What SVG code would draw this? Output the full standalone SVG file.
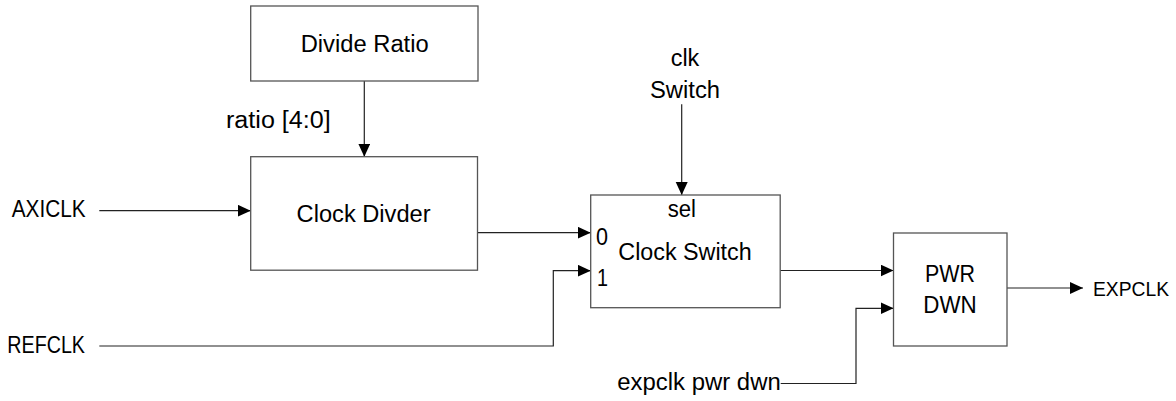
<svg xmlns="http://www.w3.org/2000/svg" width="1176" height="401" viewBox="0 0 1176 401">
<style>
.box{fill:#fff;stroke:#555;stroke-width:1.3}
.wire{fill:none;stroke:#222;stroke-width:1.2}
.t{font-family:"Liberation Sans",Arial,sans-serif;font-size:23.5px;fill:#000}
</style>
<defs>
<marker id="ah" markerUnits="userSpaceOnUse" markerWidth="14" markerHeight="13" refX="13" refY="6" orient="auto">
<path d="M0,0 L13,6 L0,12 z" fill="#000"/>
</marker>
</defs>
<rect width="1176" height="401" fill="#fff"/>
<g id="connectors">
<path class="wire" d="M364.3,81 V156.7" marker-end="url(#ah)"/>
<path class="wire" d="M99.3,210.7 H250.7" marker-end="url(#ah)"/>
<path class="wire" d="M477.5,232.7 H590.7" marker-end="url(#ah)"/>
<path class="wire" d="M99.3,346 H553.3 V270.7 H590.7" marker-end="url(#ah)"/>
<path class="wire" d="M681.7,104.3 V195" marker-end="url(#ah)"/>
<path class="wire" d="M780.2,270.5 H893.5" marker-end="url(#ah)"/>
<path class="wire" d="M780.7,383.5 H856 V308.3 H893.5" marker-end="url(#ah)"/>
<path class="wire" d="M1007,288 H1083" marker-end="url(#ah)"/>
</g>
<g id="divide-ratio">
<rect class="box" x="250.7" y="6" width="227.3" height="75"/>
<text class="t" x="300.7" y="52.3" textLength="128" lengthAdjust="spacingAndGlyphs">Divide Ratio</text>
</g>
<g id="clock-divider">
<rect class="box" x="250.7" y="156.7" width="226.8" height="113.5"/>
<text class="t" x="296.6" y="221.7" textLength="134" lengthAdjust="spacingAndGlyphs">Clock Divder</text>
</g>
<g id="clock-switch">
<rect class="box" x="590.7" y="195" width="189.5" height="112.7"/>
<text class="t" x="667.7" y="217.3" textLength="28.3" lengthAdjust="spacingAndGlyphs">sel</text>
<text class="t" x="596" y="245" textLength="12" lengthAdjust="spacingAndGlyphs">0</text>
<text class="t" x="597" y="286" textLength="11" lengthAdjust="spacingAndGlyphs">1</text>
<text class="t" x="618.3" y="259.5" textLength="133.4" lengthAdjust="spacingAndGlyphs">Clock Switch</text>
</g>
<g id="pwr-dwn">
<rect class="box" x="893.5" y="233" width="113.5" height="113"/>
<text class="t" x="925" y="281.7" textLength="50" lengthAdjust="spacingAndGlyphs">PWR</text>
<text class="t" x="923.3" y="313.3" textLength="53.4" lengthAdjust="spacingAndGlyphs">DWN</text>
</g>
<g id="labels">
<text class="t" x="226" y="128.3" textLength="104.7" lengthAdjust="spacingAndGlyphs">ratio [4:0]</text>
<text class="t" x="11.7" y="217.3" textLength="74" lengthAdjust="spacingAndGlyphs">AXICLK</text>
<text class="t" x="7.3" y="353.3" textLength="77.7" lengthAdjust="spacingAndGlyphs">REFCLK</text>
<text class="t" x="670.7" y="65.7" textLength="28.6" lengthAdjust="spacingAndGlyphs">clk</text>
<text class="t" x="650" y="98.3" textLength="70" lengthAdjust="spacingAndGlyphs">Switch</text>
<text class="t" x="1093" y="296" style="font-size:21px" textLength="76" lengthAdjust="spacingAndGlyphs">EXPCLK</text>
<text class="t" x="617.3" y="390" textLength="163.4" lengthAdjust="spacingAndGlyphs">expclk pwr dwn</text>
</g>
</svg>
